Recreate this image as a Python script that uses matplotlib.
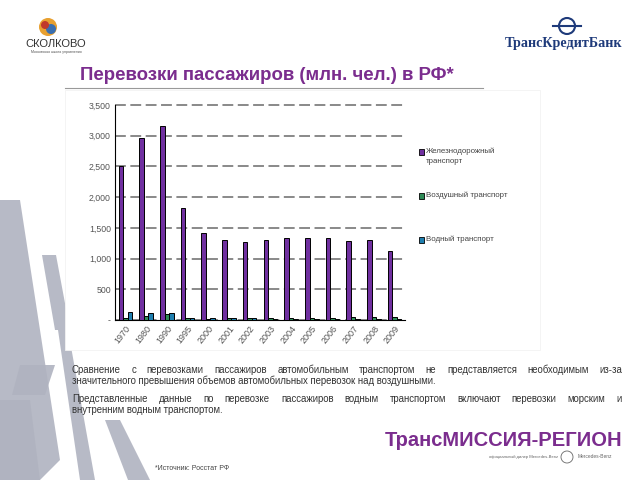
import matplotlib
matplotlib.use("Agg")
import matplotlib.pyplot as plt
import numpy as np
from matplotlib.patches import Polygon, Circle, Rectangle

plt.rcParams["font.family"] = ["Liberation Sans", "DejaVu Sans"]

years = ["1970", "1980", "1990", "1995", "2000", "2001", "2002", "2003",
         "2004", "2005", "2006", "2007", "2008", "2009"]
rail = [2500, 2970, 3150, 1830, 1420, 1310, 1270, 1310, 1340, 1340, 1340, 1285, 1295, 1130]
air = [40, 65, 90, 30, 17, 25, 25, 30, 30, 35, 35, 45, 50, 45]
water = [136, 120, 108, 30, 30, 28, 28, 22, 22, 22, 20, 18, 18, 15]
series_names = ["Железнодорожный\nтранспорт", "Воздушный транспорт", "Водный транспорт"]
yticks = [0, 500, 1000, 1500, 2000, 2500, 3000, 3500]

colors = ["#7030A0", "#2E8B57", "#1F7FAF"]

W, H = 640, 480
fig = plt.figure(figsize=(6.4, 4.8), dpi=100)
fig.patch.set_facecolor("white")
renderer = fig.canvas.get_renderer()

def fx(x):
    return x / W

def fy(y):
    return 1 - y / H

def fit_width(t, target):
    wd = t.get_window_extent(renderer).width
    t.set_fontsize(t.get_fontsize() * target / wd)

# background decoration (gray slashes lower-left)
deco = fig.add_axes([0, 0, 1, 1], zorder=0)
deco.set_xlim(0, W)
deco.set_ylim(H, 0)
deco.axis("off")
g = "#B0B3C0"
polys = [
    [(0, 200), (20, 200), (60, 460), (40, 480), (0, 480)],
    [(42, 255), (56, 255), (70, 330), (55, 330)],
    [(20, 365), (55, 365), (45, 395), (12, 395)],
    [(58, 330), (68, 330), (95, 480), (80, 480)],
    [(105, 420), (120, 420), (150, 480), (128, 480)],
    [(0, 400), (30, 400), (40, 480), (0, 480)],
]
for p in polys:
    deco.add_patch(Polygon(p, closed=True, facecolor=g, edgecolor="none", alpha=0.9))
# white chart panel
deco.add_patch(Polygon([(65, 90), (540, 90), (540, 350), (65, 350)], closed=True,
                       facecolor="white", edgecolor="#F2F2F2", lw=0.6))

# logos (simplified)
deco.add_patch(Circle((48, 27), 9, facecolor="#E8A030", edgecolor="none"))
deco.add_patch(Circle((51, 29), 5, facecolor="#3A6FB0", edgecolor="none"))
deco.add_patch(Circle((45, 25), 4, facecolor="#C0392B", edgecolor="none"))
fig.text(fx(56), fy(44), "СКОЛКОВО", fontsize=8, color="#333333", ha="center", va="center")
fig.text(fx(56), fy(52), "Московская школа управления", fontsize=2.5, color="#555555",
         ha="center", va="center")
deco.add_patch(Circle((567, 26), 8, facecolor="none", edgecolor="#1E3A7A", lw=1.5))
deco.plot([553, 581], [26, 26], color="#1E3A7A", lw=1.5)
t = fig.text(fx(505), fy(44), "ТрансКредитБанк", fontsize=9, color="#1E3A7A", ha="left",
             va="center", family="Liberation Serif", fontweight="bold")
fit_width(t, 117)

# title
t = fig.text(fx(80), fy(75), "Перевозки пассажиров (млн. чел.) в РФ*", fontsize=13,
             color="#7B2D8E", fontweight="bold", ha="left", va="center")
fit_width(t, 373)
deco.plot([65, 483], [88, 88], color="#999999", lw=0.8)

# chart
ax = fig.add_axes([fx(115), fy(320), fx(290), (320 - 104) / H], zorder=2)
x = np.arange(len(years))
w = 0.22
data = [rail, air, water]
for i, (vals, c) in enumerate(zip(data, colors)):
    ax.bar(x + (i - 1) * w, vals, width=w, color=c, edgecolor="black", linewidth=0.7,
           label=series_names[i], zorder=3)
ax.set_xlim(-0.5, len(years) - 0.5)
ax.set_ylim(0, 3516)
ax.set_yticks(yticks)
ax.set_yticklabels(["-" if v == 0 else f"{v:,}" for v in yticks], fontsize=6.3, color="#555555")
ax.set_xticks(x)
ax.set_xticklabels(years, rotation=52, fontsize=6.5, color="#555555", ha="right",
                   rotation_mode="anchor")
ax.tick_params(axis="both", length=0, pad=3)
ax.yaxis.grid(True, linestyle=(0, (6, 2.5)), color="#808080", lw=1.3, zorder=0)
for s in ["top", "right"]:
    ax.spines[s].set_visible(False)
ax.spines["left"].set_color("black")
ax.spines["left"].set_bounds(0, 3500)
ax.spines["bottom"].set_color("black")
ax.set_facecolor("white")

# legend (manual placement to match spacing)
leg_y = [152, 196, 240]
for name, c, yy in zip(series_names, colors, leg_y):
    deco.add_patch(Rectangle((419, yy - 2.7), 5.4, 5.4, facecolor=c, edgecolor="black", lw=0.6))
    fig.text(fx(426), fy(yy - 4.5), name, fontsize=5.7, color="#444444", ha="left", va="top",
             linespacing=1.7)

# paragraphs (justified lines)
SIZE = 6.9

def justified(line, y, x0=72, x1=622, justify=True, size=SIZE):
    words = line.split(" ")
    if not justify:
        fig.text(fx(x0), fy(y), line, fontsize=size, color="#333333", ha="left", va="center")
        return
    texts = [fig.text(0, fy(y), wd, fontsize=size, color="#333333", ha="left", va="center")
             for wd in words]
    widths = [tt.get_window_extent(renderer).width for tt in texts]
    gap = (x1 - x0 - sum(widths)) / (len(words) - 1)
    pos = x0
    for tt, wd in zip(texts, widths):
        tt.set_x(fx(pos))
        pos += wd + gap

justified("Сравнение с перевозками пассажиров автомобильным транспортом не представляется необходимым из-за", 370)
justified("значительного превышения объемов автомобильных перевозок над воздушными.", 381, justify=False)
justified("Представленные данные по перевозке пассажиров водным транспортом включают перевозки морским и", 399)
justified("внутренним водным транспортом.", 410, justify=False)

t = fig.text(fx(385), fy(440), "ТрансМИССИЯ-РЕГИОН", fontsize=19, color="#7B2D8E",
             fontweight="bold", ha="left", va="center")
fit_width(t, 237)
fig.text(fx(558), fy(457), "официальный дилер Mercedes-Benz", fontsize=3, color="#666666",
         ha="right", va="center")
deco.add_patch(Circle((567, 457), 6, facecolor="none", edgecolor="#666666", lw=0.6))
fig.text(fx(578), fy(457), "Mercedes-Benz", fontsize=3.5, color="#666666", ha="left", va="center")
fig.text(fx(155), fy(469), "*Источник: Росстат РФ", fontsize=5, color="#444444",
         ha="left", va="center")

fig.savefig("out.png", dpi=100, facecolor="white")
